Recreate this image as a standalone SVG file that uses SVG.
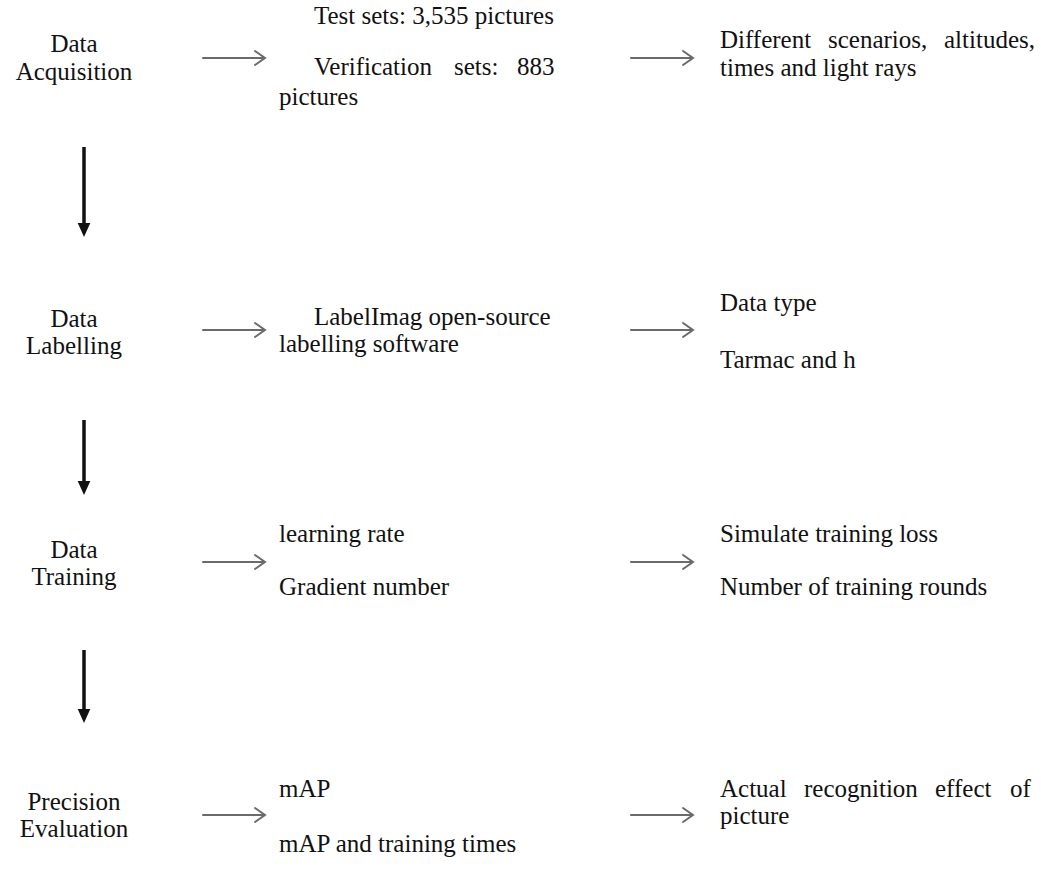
<svg xmlns="http://www.w3.org/2000/svg" width="1041" height="886" viewBox="0 0 1041 886">
<style>
text{font-family:"Liberation Serif","Times New Roman",serif;font-size:25px;fill:#111}
.c{text-anchor:middle}
.h{stroke:#6a6a6a;stroke-width:2;fill:none;stroke-linecap:round}
.v{stroke:#111;stroke-width:3.5;fill:none}
</style>
<defs>
<marker id="vh" markerWidth="4" markerHeight="4" refX="2" refY="2" orient="auto" markerUnits="strokeWidth" viewBox="0 0 4 4"><path d="M0,0.2 L4,2 L0,3.8 Z" fill="#111"/></marker>
</defs>
<rect width="1041" height="886" fill="#fff"/>
<g id="acq"><text class="c" x="74" y="52">Data</text><text class="c" x="74" y="80">Acquisition</text></g>
<g id="acq-mid"><text x="314" y="24">Test sets: 3,535 pictures</text><text x="314" y="75">Verification</text><text x="454" y="75">sets:</text><text x="517" y="75">883</text><text x="279" y="105">pictures</text></g>
<g id="acq-right"><text x="720" y="48">Different</text><text x="828" y="48">scenarios,</text><text x="944" y="48">altitudes,</text><text x="720" y="76">times and light rays</text></g>
<g id="lab"><text class="c" x="74" y="327">Data</text><text class="c" x="74" y="354">Labelling</text></g>
<g id="lab-mid"><text x="314" y="325">LabelImag open-source</text><text x="279" y="352">labelling software</text></g>
<g id="lab-right"><text x="720" y="311">Data type</text><text x="720" y="368">Tarmac and h</text></g>
<g id="tra"><text class="c" x="74" y="558">Data</text><text class="c" x="74" y="585">Training</text></g>
<g id="tra-mid"><text x="279" y="542">learning rate</text><text x="279" y="595">Gradient number</text></g>
<g id="tra-right"><text x="720" y="542">Simulate training loss</text><text x="720" y="595">Number of training rounds</text></g>
<g id="pre"><text class="c" x="74" y="810">Precision</text><text class="c" x="74" y="837">Evaluation</text></g>
<g id="pre-mid"><text x="279" y="797">mAP</text><text x="279" y="852">mAP and training times</text></g>
<g id="pre-right"><text x="720" y="797">Actual</text><text x="804" y="797">recognition</text><text x="935" y="797">effect</text><text x="1010" y="797">of</text><text x="720" y="824">picture</text></g>
<g id="connectors">
<path class="h" d="M203,58 H265 M255,51 L265,58 L255,65"/>
<path class="h" d="M631,58 H693 M683,51 L693,58 L683,65"/>
<path class="h" d="M203,330 H265 M255,323 L265,330 L255,337"/>
<path class="h" d="M631,330 H693 M683,323 L693,330 L683,337"/>
<path class="h" d="M203,562 H265 M255,555 L265,562 L255,569"/>
<path class="h" d="M631,562 H693 M683,555 L693,562 L683,569"/>
<path class="h" d="M203,815 H265 M255,808 L265,815 L255,822"/>
<path class="h" d="M631,815 H693 M683,808 L693,815 L683,822"/>
<line class="v" x1="84" y1="147" x2="84" y2="230" marker-end="url(#vh)"/>
<line class="v" x1="84" y1="420" x2="84" y2="488" marker-end="url(#vh)"/>
<line class="v" x1="84" y1="650" x2="84" y2="716" marker-end="url(#vh)"/>
</g>
</svg>
